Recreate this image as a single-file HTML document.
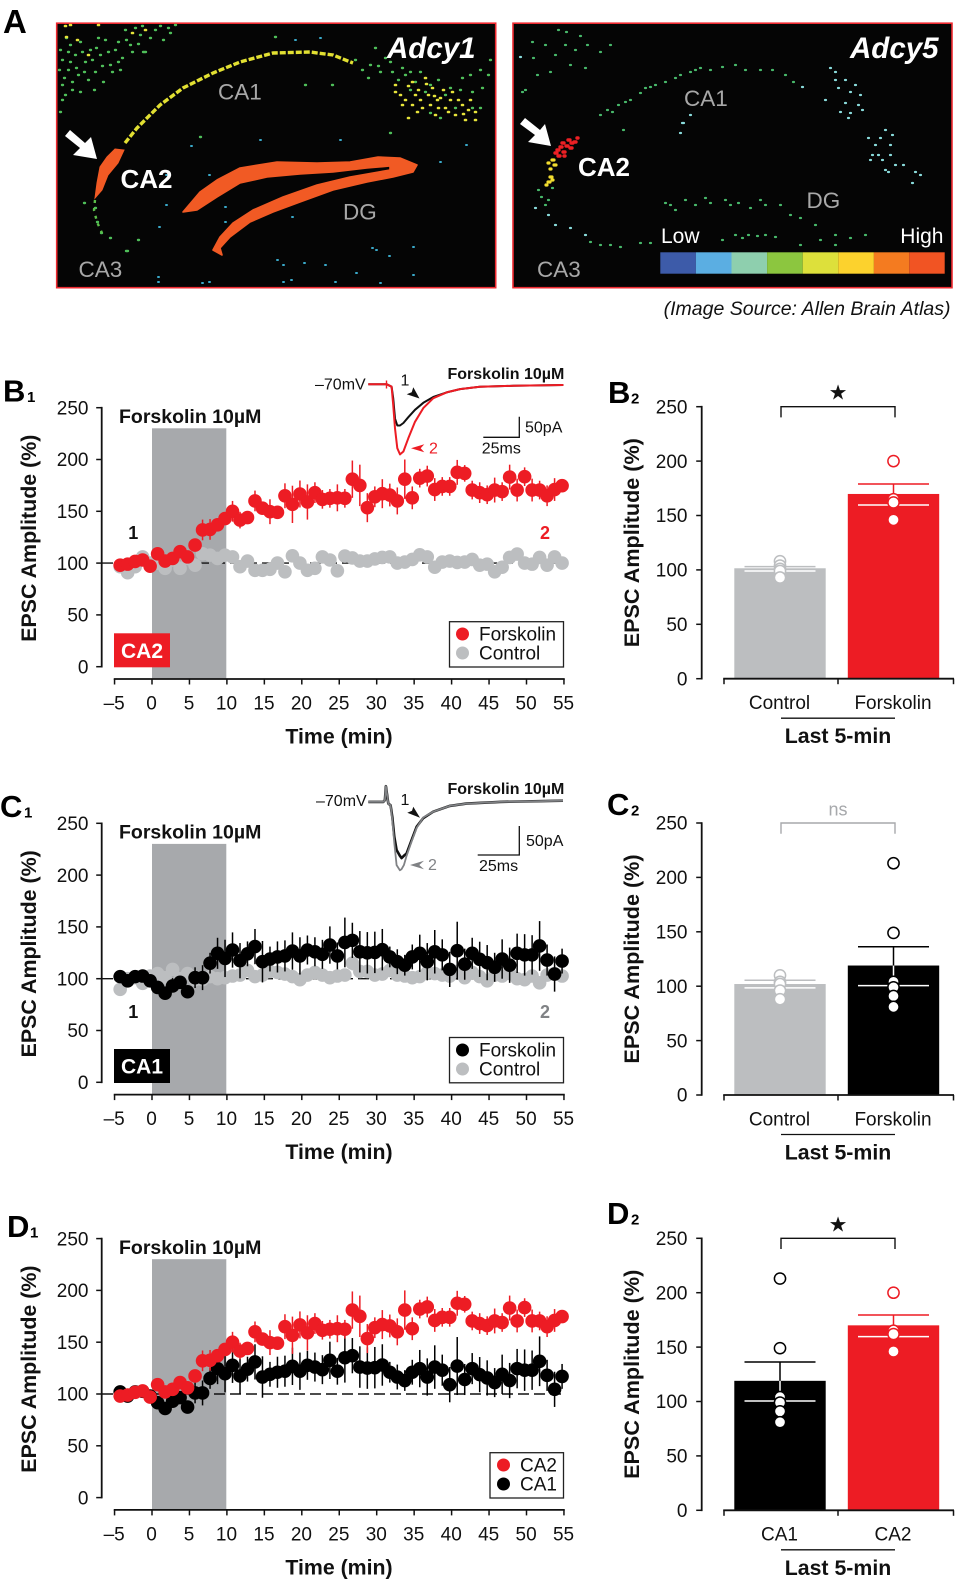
<!DOCTYPE html>
<html lang="en">
<head>
<meta charset="utf-8">
<title>Forskolin EPSC figure</title>
<style>
html,body{margin:0;padding:0;background:#fff}
svg{display:block;font-family:"Liberation Sans",sans-serif}
.pl{font-weight:700;font-size:31px;fill:#000}
.sub{font-weight:700;font-size:15px;fill:#000}
.im{font-size:22.5px;fill:#a8a8a8}
.ca2{font-size:26px;font-weight:700;fill:#fff}
.gene{font-size:29.5px;font-weight:700;font-style:italic;fill:#fff}
.fk{font-size:19.5px;font-weight:700;fill:#111}
.fks{font-size:16px;font-weight:700;fill:#111}
.ins{font-size:16px;fill:#111}
.lg{font-size:19px;fill:#111}
</style>
</head>
<body>
<svg id="fig" xmlns="http://www.w3.org/2000/svg" width="957" height="1583" viewBox="0 0 957 1583">
<rect width="957" height="1583" fill="#fff"/>

<text class="pl" x="3" y="33" style="font-size:33px">A</text>

<g>
<rect x="56.7" y="23.2" width="439" height="264.5" fill="#050505" stroke="#ee2a30" stroke-width="1.6"/>
<path fill="none" stroke="#4fbf5a" stroke-width="2.4" stroke-linecap="round" d="M60 50h1M62 60h1M66 38h1M70 45h1M75 55h1M68 70h1M62 85h1M80 42h1M85 62h1M90 50h1M95 72h1M100 55h1M105 40h1M88 80h1M78 75h1M72 90h1M65 95h1M110 65h1M115 50h1M120 70h1M103 82h1M98 38h1M125 30h1M130 45h1M140 35h1M145 52h1M135 28h1M155 30h1M163 40h1M170 33h1M175 25h1M143 52h1M118 62h1M60 112h1M62 100h1M370 65h1M375 48h1M380 72h1M390 62h1M398 80h1M405 75h1M362 70h1M410 90h1M420 72h1M430 85h1M445 95h1M460 90h1M480 108h1M470 75h1M480 70h1M490 60h1M430 113h1M275 37h1M305 85h1M332 85h1M390 133h1M200 137h1M126 251h2M138 240h1M84 203h1M95 208h1M97 222h1M101 233h1M110 238h1M59 70h1M64 78h1M70 62h1M76 68h1M82 52h1M84 72h1M92 60h1M96 48h1M102 66h1M108 52h1M112 72h1M94 90h1M80 92h1M72 82h1M68 52h1M126 40h1M138 44h1M150 38h1M160 26h1M168 28h1M132 52h1M118 42h1M142 26h1M122 58h1M355 60h1M368 78h1M385 58h1M378 66h1M392 72h1M402 68h1M415 82h1M425 92h1M438 80h1M450 88h1M462 78h1M472 92h1M482 88h1M488 75h1M472 108h1M440 118h1M455 108h1M410 72h1"/>
<path fill="none" stroke="#e6e33a" stroke-width="2.6" stroke-linecap="round" d="M65 26h1M70 25h1M66 37h1M77 40h1M88 55h1M98 25h1M132 33h1M145 30h1M395 85h1M400 95h1M412 105h1M420 100h1M425 78h1M428 95h1M435 115h1M445 108h1M455 115h1M470 100h1M475 112h1M465 120h1M440 98h1M418 90h1M432 88h1M408 118h1M462 105h1M450 100h1M408 86h1M417 112h1M443 90h1M475 120h1M405 100h1M415 95h1M422 108h1M430 105h1M437 100h1M448 112h1M458 100h1M468 110h1M412 82h1M402 105h1M395 92h1M438 108h1M426 84h1M434 96h1M452 92h1M463 114h1"/>
<path fill="none" stroke="#3aa9c9" stroke-width="2" stroke-linecap="round" d="M295 40h1M320 38h1M260 140h1M340 140h1M191 146h1M466 145h1M440 162h1M166 175h1M209 175h1M225 207h1M166 205h1M225 222h1M159 227h1M292 217h1M372 248h1M376 250h1M413 247h1M335 282h1M277 260h1M283 265h1M304 263h1M325 265h1M291 280h1M283 282h1M356 273h1M389 256h1M413 275h1M380 283h1M158 277h1M158 282h1M202 283h1M209 282h1"/>
<path d="M125 143L137 128L160 105L183 88L213 73L240 62L273 53L310 52L333 55L353 63" fill="none" stroke="#e2e032" stroke-width="3.4" stroke-dasharray="6 2"/>
<path d="M95 200L94 210L97 222L102 233" fill="none" stroke="#5cc04a" stroke-width="2.4" stroke-dasharray="3 5"/>
<polygon points="115,149 124,150 118,163 108,175 102,190 95,198 97,183 100,167 107,157" fill="#f15a24" stroke="#f15a24" stroke-width="1"/>
<polygon points="183,212 200,192 217,180 240,168 277,162 317,163 350,162 378,157 400,158 417,165 413,172 393,177 367,182 333,190 300,202 273,212 250,222 230,237 220,248 222,255 213,250 220,237 233,223 253,210 283,197 317,185 350,177 390,170 390,166 367,168 333,172 300,174 267,177 240,183 217,197 197,210" fill="#f15a24" stroke="#f15a24" stroke-width="1.6" stroke-linejoin="round"/>
<polygon points="97,159 73,155 80,148 65,136 70,130 85,143 91,137" fill="#fff"/>
<text class="im" x="218" y="99.5">CA1</text>
<text class="ca2" x="120.5" y="188">CA2</text>
<text class="im" x="343" y="219.5">DG</text>
<text class="im" x="78.5" y="277">CA3</text>
<text class="gene" x="387" y="58">Adcy1</text>
</g>

<g>
<rect x="513" y="23.2" width="439" height="264.5" fill="#050505" stroke="#ee2a30" stroke-width="1.6"/>
<path fill="none" stroke="#48b96b" stroke-width="2.2" stroke-linecap="round" d="M558 30h1M566 32h1M580 36h1M532 42h1M545 45h1M565 45h1M575 50h1M587 45h1M600 52h1M533 58h1M555 55h1M570 65h1M585 68h1M550 72h1M537 75h1M525 90h1M522 92h1M610 45h1M600 115h1M607 110h1M618 105h1M630 100h1M640 93h1M645 88h1M655 85h1M665 82h1M675 78h1M690 72h1M700 68h1M710 70h1M722 67h1M735 65h1M745 70h1M760 70h1M772 70h1M785 75h1M793 82h1M665 203h1M675 210h1M685 200h1M695 205h1M710 203h1M725 200h1M738 203h1M750 208h1M765 205h1M780 205h1M790 215h1M800 218h1M815 225h1M835 235h1M850 238h1M865 235h1M722 240h1M735 235h1M748 235h1M765 235h1M775 237h1M800 245h1M820 240h1M835 245h1M590 242h1M600 245h1M610 245h1M620 247h1M640 243h1M650 243h1M623 130h1M538 190h1M541 197h1M545 205h1M552 188h1M548 200h1M612 112h1M625 102h1M650 87h1M680 75h1M695 70h1M670 205h1M705 198h1M730 205h1M760 200h1M742 238h1M757 236h1"/>
<path fill="none" stroke="#8adcdc" stroke-width="2.2" stroke-linecap="round" d="M830 68h1M835 80h1M838 88h1M845 80h1M855 85h1M860 95h1M862 110h1M845 103h1M840 112h1M850 113h1M825 100h1M868 138h1M880 138h1M885 130h1M890 145h1M872 155h1M878 155h1M885 170h1M895 165h1M903 165h1M915 172h1M920 175h1M912 183h1M888 172h1M890 155h1M535 208h1M548 215h1M555 225h1M570 228h1M585 235h1M682 123h2M680 133h1M690 115h1M520 57h1M802 87h1M850 92h1M858 105h1M835 72h1M848 118h1M875 145h1M882 160h1M870 160h1M892 135h1"/>
<path fill="none" stroke="#ed2024" stroke-width="3.4" stroke-linecap="round" d="M557 150h2M560 147h2M563 152h2M566 146h2M570 148h2M574 142h2M562 143h2M568 140h2M577 138h1M558 156h2M564 156h1M571 143h2M555 153h2"/>
<path fill="none" stroke="#f3dd2f" stroke-width="3.2" stroke-linecap="round" d="M552 160h2M554 165h2M548 163h1M550 169h1M550 177h2M548 182h2M552 180h1M546 185h1"/>
<polygon points="551,146 528,142 535,135 520,124 525,118 540,130 545,124" fill="#fff"/>
<text class="im" x="684" y="106">CA1</text>
<text class="ca2" x="578" y="176">CA2</text>
<text class="im" x="806.5" y="208">DG</text>
<text class="im" x="537" y="277">CA3</text>
<text class="gene" x="850" y="58">Adcy5</text>
<text x="661" y="243" font-size="21" fill="#fff">Low</text>
<text x="943.5" y="243" font-size="21" fill="#fff" text-anchor="end">High</text>
<g>
<rect x="660.3" y="252.3" width="35.6" height="21.4" fill="#3d5ba9"/>
<rect x="695.9" y="252.3" width="35.6" height="21.4" fill="#5baee2"/>
<rect x="731.5" y="252.3" width="35.6" height="21.4" fill="#8ecfae"/>
<rect x="767.1" y="252.3" width="35.6" height="21.4" fill="#8cc63f"/>
<rect x="802.7" y="252.3" width="35.6" height="21.4" fill="#dde03b"/>
<rect x="838.3" y="252.3" width="35.6" height="21.4" fill="#fcd22d"/>
<rect x="873.9" y="252.3" width="35.4" height="21.4" fill="#f47b20"/>
<rect x="909.3" y="252.3" width="35.4" height="21.4" fill="#f15423"/>
</g>
</g>
<text x="950.5" y="315" font-size="19.5" font-style="italic" fill="#111" text-anchor="end">(Image Source: Allen Brain Atlas)</text>

<!-- panel letters -->
<text class="pl" x="3" y="401.5">B</text><text class="sub" x="27" y="402">1</text>
<text class="pl" x="608" y="403">B</text><text class="sub" x="631" y="403.5">2</text>
<text class="pl" x="0" y="817">C</text><text class="sub" x="24" y="817.5">1</text>
<text class="pl" x="607" y="815">C</text><text class="sub" x="631" y="815.5">2</text>
<text class="pl" x="7" y="1237">D</text><text class="sub" x="30" y="1237.5">1</text>
<text class="pl" x="607" y="1224">D</text><text class="sub" x="631" y="1224.5">2</text>

<g id="chart-b1"></g>
<g id="chart-c1"></g>
<g id="chart-d1"></g>
<g id="chart-b2"></g>
<g id="chart-c2"></g>
<g id="chart-d2"></g>

<!-- annotations B1 -->
<g>
<text class="fk" x="119" y="423">Forskolin 10µM</text>
<text x="133.3" y="539" font-size="18" font-weight="700" text-anchor="middle" fill="#111">1</text>
<text x="545" y="539" font-size="18" font-weight="700" text-anchor="middle" fill="#ed1c24">2</text>
<rect x="114" y="633.3" width="56" height="34" fill="#ed1c24"/>
<text x="142" y="658" font-size="21" font-weight="700" text-anchor="middle" fill="#fff">CA2</text>
<g>
<rect x="449.5" y="621.7" width="114" height="45.3" fill="#fff" stroke="#222" stroke-width="1.3"/>
<circle cx="462.5" cy="634" r="6.5" fill="#ed1c24"/>
<text class="lg" x="479" y="640.5">Forskolin</text>
<circle cx="462.5" cy="653" r="6.5" fill="#bcbec0"/>
<text class="lg" x="479" y="659.5">Control</text>
</g>
<g id="inset-b">
<text class="ins" x="315" y="389.3">–70mV</text>
<text class="fks" x="447.5" y="379">Forskolin 10µM</text>
<text class="ins" x="405" y="385.7" text-anchor="middle">1</text>
<polygon points="419.5,398.5 406.7,394.3 411.7,392.3 413.3,387.3" fill="#111"/>
<polygon points="411,448.3 424.3,444.3 420.7,448.3 424.3,452.3" fill="#ed1c24"/>
<text class="ins" x="429" y="453.3" style="fill:#ed1c24">2</text>
<path d="M519.3 416.7V437.3H483.3" fill="none" stroke="#111" stroke-width="1.3"/>
<text class="ins" x="525" y="432.3">50pA</text>
<text class="ins" x="481.7" y="453.3">25ms</text>
</g>
</g>

<!-- annotations C1 -->
<g>
<text class="fk" x="119" y="838.3">Forskolin 10µM</text>
<text x="133.3" y="1018" font-size="18" font-weight="700" text-anchor="middle" fill="#111">1</text>
<text x="545" y="1018" font-size="18" font-weight="700" text-anchor="middle" fill="#808285">2</text>
<rect x="114" y="1049" width="56" height="34" fill="#000"/>
<text x="142" y="1073.6" font-size="21" font-weight="700" text-anchor="middle" fill="#fff">CA1</text>
<g>
<rect x="449.5" y="1037.5" width="114" height="45.3" fill="#fff" stroke="#222" stroke-width="1.3"/>
<circle cx="462.5" cy="1050" r="6.5" fill="#000"/>
<text class="lg" x="479" y="1056.5">Forskolin</text>
<circle cx="462.5" cy="1069" r="6.5" fill="#bcbec0"/>
<text class="lg" x="479" y="1075.5">Control</text>
</g>
<g id="inset-c">
<text class="ins" x="316" y="806">–70mV</text>
<text class="fks" x="447.5" y="794">Forskolin 10µM</text>
<text class="ins" x="405" y="805" text-anchor="middle">1</text>
<polygon points="420,817.7 407.3,812.7 412,810.7 413.3,806.7" fill="#111"/>
<polygon points="410,865 424,860.7 419.3,865 424,869.3" fill="#808285"/>
<text class="ins" x="428" y="870" style="fill:#808285">2</text>
<path d="M519.3 826V855H477.7" fill="none" stroke="#111" stroke-width="1.3"/>
<text class="ins" x="526" y="846">50pA</text>
<text class="ins" x="479" y="871">25ms</text>
</g>
</g>

<!-- annotations D1 -->
<g>
<text class="fk" x="119" y="1254">Forskolin 10µM</text>
<g>
<rect x="490" y="1452.7" width="73.5" height="45.3" fill="#fff" stroke="#222" stroke-width="1.3"/>
<circle cx="503.5" cy="1465" r="6.5" fill="#ed1c24"/>
<text class="lg" x="520" y="1471.5">CA2</text>
<circle cx="503.5" cy="1484" r="6.5" fill="#000"/>
<text class="lg" x="520" y="1490.5">CA1</text>
</g>
</g>
</svg>

<script>
// ---------- time-course data ----------
const timeMin = [
 -4.25,-3.25,-2.25,-1.25,-0.25,0.75,1.75,2.75,3.75,4.75,
 5.75,6.75,7.75,8.75,9.75,10.75,11.75,12.75,13.75,14.75,
 15.75,16.75,17.75,18.75,19.75,20.75,21.75,22.75,23.75,24.75,
 25.75,26.75,27.75,28.75,29.75,30.75,31.75,32.75,33.75,34.75,
 35.75,36.75,37.75,38.75,39.75,40.75,41.75,42.75,43.75,44.75,
 45.75,46.75,47.75,48.75,49.75,50.75,51.75,52.75,53.75,54.75];
const forskolinCa2 = [
 98,99,101.6,103,97,109,102,104.5,111,106,
 117.4,132,132.5,137,143,150,141.5,144,160,153,
 149.6,149,165,156.7,166.7,159,168,161.5,162.5,163,
 162.5,181,175,153.5,164,167,165.7,160,181,163,
 182,184,171,174,174,187.6,186.6,170.5,168,166,
 170.5,169,183,170.5,183.4,170.5,170.5,165,171,174.7];
const forskolinCa2Sem = [
 2,2,3,3,3,4,4,3,5,4,
 4,10,10,6,6,10,8,6,10,5,
 12,5,12,18,13,17,10,9,9,13,
 9,18,20,14,10,14,11,13,19,11,
 9,10,11,9,9,12,8,9,10,9,
 12,9,12,11,9,11,9,10,11,5];
const controlCa2 = [
 96.5,90.7,96.5,106,100,100,95,103,95,104.5,
 98,109,107.7,104.5,107.7,106,96.5,102,93,93,
 94,100,91.6,107,100,93,95,106,103,92.6,
 106.8,105,102,102,104,105.5,106,100,101,103.5,
 108,106,96,101,102,100.6,101,103.5,98,99,
 91.6,96,105.5,108.7,100,99,105.5,98,106,100];
const controlCa2Sem = [
 3,4,3,5,3,3,4,3,4,3,
 3,5,4,4,4,4,4,3,5,4,
 4,3,4,5,4,4,4,3,4,4,
 6,5,4,4,4,4,4,3,4,4,
 4,4,4,4,4,4,4,4,4,4,
 5,4,3,4,4,3,4,3,4,4];
const forskolinCa1 = [
 102,98,102,102.6,98,91.6,86,93,96.5,87.4,
 101,101,115,124.5,119.6,127.7,117.4,124,131,116.4,
 119,121,122,126.7,122,127.7,126,123.5,132.5,122,
 135,137,126,125,125.4,128,121,116.4,113,121,
 124.5,116.4,126,123,109,127,114,124.5,118.7,115.5,
 111,119,113,124.5,123,123,131.6,118,104.5,117];
const forskolinCa1Sem = [
 4,4,4,4,3,3,4,4,4,4,
 10,12,10,15,18,17,17,12,17,20,
 12,15,15,18,18,14,14,14,18,13,
 24,17,20,20,20,20,10,12,10,12,
 18,18,21,15,17,28,15,15,17,17,
 14,19,17,19,20,19,24,15,17,12];
const controlCa1 = [
 89.7,100,101,95.5,102.6,105,101,109,100,105,
 99,99,102,100,101,102.6,103.5,108,102,103.5,
 107,106,104.5,102,99,103.5,106,103.5,101,102.6,
 103.5,115,107,107,103.5,104.5,108,103.5,102.6,101,
 102,106,105,103.5,102.6,107,101,106,102,98,
 103.5,102.6,105,100,99,102.6,96,103.5,105,102.6];
const controlCa1Sem = [
 5,4,4,4,4,4,4,5,4,4,
 4,4,5,5,5,5,5,6,5,5,
 6,5,5,5,5,5,5,5,5,5,
 5,7,6,6,5,5,6,5,5,5,
 5,6,6,5,5,6,5,6,5,6,
 5,5,5,5,5,5,6,5,5,5];
const xTickValues = [-5,0,5,10,15,20,25,30,35,40,45,50,55];
const xTickLabels = ['–5','0','5','10','15','20','25','30','35','40','45','50','55'];
const yTickValues = [0,50,100,150,200,250];

// ---------- bar panel data ----------
const b2Categories = ['Control','Forskolin'];
const b2Means = [101.5,169.8];
const b2Upper = [103,179];
const b2Lower = [99,159.6];
const b2ControlCells = [108,104,101,99,93];
const b2ForskolinCells = [200,165,162,146];
const c2Categories = ['Control','Forskolin'];
const c2Means = [102,119];
const c2Upper = [105.5,136.3];
const c2Lower = [98.5,100.5];
const c2ControlCells = [110,104,102,96,88];
const c2ForskolinCells = [213,149,104,99,91,81];
const d2Categories = ['CA1','CA2'];
const d2Means = [119,170];
const d2Upper = [136.3,179.5];
const d2Lower = [100.5,159.6];
const d2Ca1Cells = [213,149,104,99,91,81];
const d2Ca2Cells = [200,165,162,146];

// ---------- EPSC inset traces (ms, pA) ----------
const traceBTime = [0,12.5,15.9,17,18.2,19.8,21.6,23.9,27.3,31.8,37.5,44.3,53.4,62.5,76,99,133];
const traceBRed = [2,2,-4,-48,-105,-153,-168,-161,-129,-89,-56,-32,-18,-10,-4,-2,0];
const traceBBlack = [2,2,-4,-32,-81,-98,-98,-92,-78,-60,-43,-29,-18,-10,-4,-2,0];
const traceCTime = [0,9,10,10.6,12,13.4,14.4,15.6,17,19,20,21.4,23,26,29,33,39,49,59,79,117];
const traceCBlack = [-2,-2,1,25,-5,-8,-28,-62,-85,-95,-99,-95,-91,-68,-45,-30,-19,-9,-5,-2,0];
const traceCGray = [-2,-2,1,25,-5,-8,-33,-73,-111,-120,-118,-111,-95,-70,-47,-29,-19,-9,-5,-2,0];

const NS = 'http://www.w3.org/2000/svg';
const RED = '#ed1c24', GRAY = '#bcbec0', BLACK = '#000';
function el(tag, attrs, parent, text) {
  const n = document.createElementNS(NS, tag);
  for (const k in attrs) n.setAttribute(k, attrs[k]);
  if (text !== undefined) n.textContent = text;
  parent.appendChild(n);
  return n;
}

function drawSeries(parent, xf, yf, times, vals, sems, color, key) {
  const g = el('g', {}, parent);
  
  
  times.forEach((t, i) => {
    const bar = el('line', {x1: xf(t), x2: xf(t), y1: yf(vals[i] + sems[i]), y2: yf(vals[i] - sems[i]), stroke: color, 'stroke-width': 1.5}, g);
    
    
  });
  times.forEach((t, i) => {
    const c = el('circle', {cx: xf(t), cy: yf(vals[i]), r: 6.8, fill: color}, g);
    
    
  });
}

function drawTimecourse(id, y0, series) {
  const g = document.getElementById(id);
  const xf = t => 152 + t * 7.49;
  const yf = v => y0 - v * 1.036;
  const axisY = y0 + 12.3;
  const shade = el('rect', {x: 152, y: y0 - 238.4, width: 74.3, height: axisY - (y0 - 238.4), fill: '#a7a9ac'}, g);
  
  
  const base = el('line', {x1: 102, x2: xf(55), y1: yf(100), y2: yf(100), stroke: '#111', 'stroke-width': 1.4, 'stroke-dasharray': '11 5'}, g);
  
  
  const yAxis = el('line', {x1: 101.7, x2: 101.7, y1: yf(250) - 0.8, y2: yf(0) + 0.8, stroke: '#111', 'stroke-width': 1.8}, g);
  
  
  yTickValues.forEach(v => {
    const tk = el('line', {x1: 96.2, x2: 101.7, y1: yf(v), y2: yf(v), stroke: '#111', 'stroke-width': 1.5}, g);
    
    
    const lb = el('text', {x: 88.5, y: yf(v) + 6.7, 'text-anchor': 'end', 'font-size': 19, fill: '#111'}, g, String(v));
    
    
  });
  const xAxis = el('line', {x1: xf(-5) - 0.8, x2: xf(55) + 0.8, y1: axisY, y2: axisY, stroke: '#111', 'stroke-width': 1.8}, g);
  
  
  xTickValues.forEach((v, i) => {
    const tk = el('line', {x1: xf(v), x2: xf(v), y1: axisY, y2: axisY + 5.5, stroke: '#111', 'stroke-width': 1.5}, g);
    
    
    const lb = el('text', {x: xf(v) - 0.4, y: axisY + 30.5, 'text-anchor': 'middle', 'font-size': 19, fill: '#111'}, g, xTickLabels[i]);
    
    
  });
  const xt = el('text', {x: 339, y: axisY + 64.6, 'text-anchor': 'middle', 'font-size': 21.3, 'font-weight': 700, fill: '#111'}, g, 'Time (min)');
  
  
  const yt = el('text', {transform: 'translate(36,' + (y0 - 128.5) + ') rotate(-90)', 'text-anchor': 'middle', 'font-size': 21.4, 'font-weight': 700, fill: '#111'}, g, 'EPSC Amplitude (%)');
  
  
  series.forEach(s => drawSeries(g, xf, yf, timeMin, s.vals, s.sems, s.color, s.key));
}

function drawBars(id, y0, cats, means, upper, lower, cells, colors, brk) {
  const g = document.getElementById(id);
  const yf = v => y0 - v * 1.088;
  const centers = [780, 893.5];
  centers.forEach((cx, i) => {
    const b = el('rect', {x: cx - 45.7, y: yf(means[i]), width: 91.4, height: y0 - yf(means[i]), fill: colors[i]}, g);
    
    
    const stemIn = el('line', {x1: cx, x2: cx, y1: yf(means[i]), y2: yf(lower[i]), stroke: '#fff', 'stroke-width': 1.5}, g);
    
    
    const capLow = el('line', {x1: cx - 35.5, x2: cx + 35.5, y1: yf(lower[i]), y2: yf(lower[i]), stroke: '#fff', 'stroke-width': 1.5}, g);
    
    
    const stem = el('line', {x1: cx, x2: cx, y1: yf(upper[i]), y2: yf(means[i]), stroke: colors[i], 'stroke-width': 1.5}, g);
    
    
    const cap = el('line', {x1: cx - 35.5, x2: cx + 35.5, y1: yf(upper[i]), y2: yf(upper[i]), stroke: colors[i], 'stroke-width': 1.5}, g);
    
    
    cells[i].forEach(v => {
      const c = el('circle', {cx: cx, cy: yf(v), r: 5.6, fill: '#fff', stroke: colors[i], 'stroke-width': 1.5}, g);
      
      
    });
    const lb = el('text', {x: cx - 0.5, y: y0 + 30.3, 'text-anchor': 'middle', 'font-size': 19, fill: '#111'}, g, cats[i]);
    
    
  });
  const yAxis = el('line', {x1: 701.7, x2: 701.7, y1: yf(250) - 0.8, y2: y0 + 0.8, stroke: '#111', 'stroke-width': 1.8}, g);
  
  
  yTickValues.forEach(v => {
    const tk = el('line', {x1: 696.2, x2: 701.7, y1: yf(v), y2: yf(v), stroke: '#111', 'stroke-width': 1.5}, g);
    
    
    const lb = el('text', {x: 687.5, y: yf(v) + 6.7, 'text-anchor': 'end', 'font-size': 19, fill: '#111'}, g, String(v));
    
    
  });
  const xAxis = el('line', {x1: 723.2, x2: 954, y1: y0, y2: y0, stroke: '#111', 'stroke-width': 1.8}, g);
  
  
  [724, 838, 953.5].forEach(x => {
    const tk = el('line', {x1: x, x2: x, y1: y0, y2: y0 + 5.5, stroke: '#111', 'stroke-width': 1.5}, g);
    
    
  });
  const ul = el('line', {x1: 781, x2: 895, y1: y0 + 39.5, y2: y0 + 39.5, stroke: '#111', 'stroke-width': 1.3}, g);
  
  
  const last = el('text', {x: 838, y: y0 + 64.5, 'text-anchor': 'middle', 'font-size': 21.3, 'font-weight': 700, fill: '#111'}, g, 'Last 5-min');
  
  
  const yt = el('text', {transform: 'translate(639,' + (y0 - 136) + ') rotate(-90)', 'text-anchor': 'middle', 'font-size': 21.6, 'font-weight': 700, fill: '#111'}, g, 'EPSC Amplitude (%)');
  
  
  const by = yf(250);
  const br = el('path', {d: 'M781 ' + (by + 10.7) + 'V' + by + 'H895V' + (by + 10.7), fill: 'none', stroke: brk.color, 'stroke-width': 1.4}, g);
  
  
  const sig = el('text', {x: 838, y: by + brk.dy, 'text-anchor': 'middle', 'font-size': brk.size, fill: brk.color, 'font-family': brk.font}, g, brk.text);
  
  
}

function drawTrace(parent, times, currents, x0, y0, pxMs, pxPa, color, width, key) {
  const pts = times.map((t, i) => (x0 + t * pxMs).toFixed(1) + ',' + (y0 - currents[i] * pxPa).toFixed(1)).join(' ');
  const p = el('polyline', {points: pts, fill: 'none', stroke: color, 'stroke-width': width, 'stroke-linejoin': 'round'}, parent);
  
  
}

drawTimecourse('chart-b1', 666.7, [
  {vals: controlCa2, sems: controlCa2Sem, color: GRAY, key: 'b1-control'},
  {vals: forskolinCa2, sems: forskolinCa2Sem, color: RED, key: 'b1-forskolin'}
]);
drawTimecourse('chart-c1', 1082.3, [
  {vals: controlCa1, sems: controlCa1Sem, color: GRAY, key: 'c1-control'},
  {vals: forskolinCa1, sems: forskolinCa1Sem, color: BLACK, key: 'c1-forskolin'}
]);
drawTimecourse('chart-d1', 1497.6, [
  {vals: forskolinCa1, sems: forskolinCa1Sem, color: BLACK, key: 'd1-ca1'},
  {vals: forskolinCa2, sems: forskolinCa2Sem, color: RED, key: 'd1-ca2'}
]);

const starStyle = {color: '#111', text: '★', size: 21, dy: -7, font: '"DejaVu Sans",sans-serif'};
drawBars('chart-b2', 678.7, b2Categories, b2Means, b2Upper, b2Lower, [b2ControlCells, b2ForskolinCells], [GRAY, RED], starStyle);
drawBars('chart-c2', 1095, c2Categories, c2Means, c2Upper, c2Lower, [c2ControlCells, c2ForskolinCells], [GRAY, BLACK],
  {color: '#a7a9ac', text: 'ns', size: 18, dy: -7.5, font: '"Liberation Sans",sans-serif'});
drawBars('chart-d2', 1510.3, d2Categories, d2Means, d2Upper, d2Lower, [d2Ca1Cells, d2Ca2Cells], [BLACK, RED], starStyle);

const insetB = document.getElementById('inset-b');
drawTrace(insetB, traceBTime, traceBBlack, 368.3, 385, 1.467, 0.413, '#111', 2, 'b1-inset-trace-baseline');
drawTrace(insetB, traceBTime, traceBRed, 368.3, 385, 1.467, 0.413, RED, 2, 'b1-inset-trace-forskolin');
const stimB = el('line', {x1: 386.5, x2: 386.5, y1: 380.5, y2: 388.5, stroke: RED, 'stroke-width': 1.4}, insetB);


const insetC = document.getElementById('inset-c');
drawTrace(insetC, traceCTime, traceCBlack, 368.3, 800.7, 1.664, 0.58, '#111', 2.6, 'c1-inset-trace-baseline');
drawTrace(insetC, traceCTime, traceCGray, 368.3, 800.7, 1.664, 0.58, '#808285', 1.8, 'c1-inset-trace-forskolin');
</script>
</body>
</html>
